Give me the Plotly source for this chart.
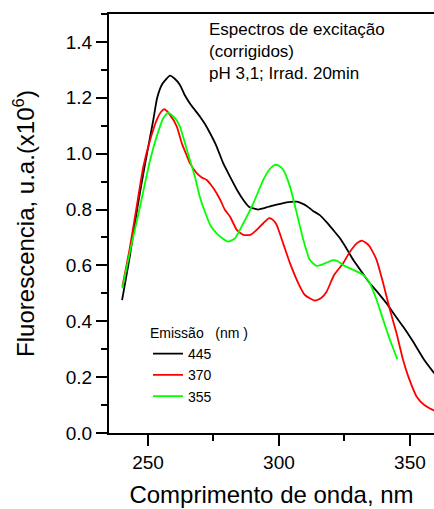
import plotly.graph_objects as go

# Emission 445 nm (black)
x445 = [240.1, 243, 246, 249, 252, 253.5, 255.5, 258.4, 260, 262.2, 264, 266, 268, 269.8, 271.8,
        273.7, 276, 278.7, 281.3, 284, 286.4, 288.5, 290.2, 292, 294, 296, 298.5, 302.9, 306.8,
        308.7, 310.6, 313, 315.6, 318, 320.7, 323.3, 325.5, 328.4, 331.5, 334.7, 338, 341.1, 344,
        347.4, 351, 355.1, 358.9, 361]
y445 = [0.476, 0.63, 0.81, 0.97, 1.12, 1.20, 1.25, 1.279, 1.27, 1.246, 1.21, 1.18, 1.155, 1.133, 1.105,
        1.073, 1.03, 0.966, 0.918, 0.87, 0.834, 0.81, 0.804, 0.80, 0.804, 0.81, 0.816, 0.826, 0.828,
        0.822, 0.813, 0.795, 0.78, 0.757, 0.727, 0.697, 0.665, 0.619, 0.578, 0.536, 0.50, 0.464, 0.425,
        0.381, 0.33, 0.267, 0.219, 0.195]

# Emission 370 nm (red)
x370 = [240.2, 243, 246, 248.2, 250.8, 253.3, 255, 256.2, 258.4, 261, 262.9, 264.5, 266, 268.6, 270.5,
        272.4, 274.3, 276.2, 277.8, 279.4, 281.3, 283.9, 286.4, 289, 291.5, 294, 296.3, 297.8, 299.1,
        301.6, 304.2, 307.4, 309.9, 313.7, 316, 318.2, 321, 324.5, 327.1, 329.7, 331.6, 333.3, 334.7,
        337.3, 339.8, 342.4, 344.9, 347.4, 349.4, 352.6, 355.5, 358.9, 361]
y370 = [0.524, 0.66, 0.83, 0.953, 1.049, 1.12, 1.15, 1.159, 1.139, 1.097, 1.037, 1.0, 0.966, 0.93, 0.915,
        0.906, 0.885, 0.858, 0.83, 0.798, 0.775, 0.727, 0.709, 0.709, 0.727, 0.751, 0.769, 0.762, 0.745,
        0.679, 0.608, 0.536, 0.494, 0.474, 0.482, 0.506, 0.565, 0.608, 0.649, 0.679, 0.689, 0.68, 0.667,
        0.619, 0.536, 0.44, 0.357, 0.261, 0.202, 0.13, 0.10, 0.082, 0.075]

# Emission 355 nm (green)
x355 = [240.2, 243, 246.7, 250.8, 253.3, 255.8, 257.7, 260.3, 262.2, 264.1, 266, 267.9, 269.8, 272,
        274, 276.2, 278, 280.6, 283.2, 286.4, 290.2, 294, 296.5, 298.5, 300, 301.6, 304.2, 306.8, 309.3,
        311.8, 314.4, 316.5, 318.2, 320.7, 322.5, 324.5, 328.4, 332.2, 334.7, 337.3, 339.8, 342.4, 345.2]
y355 = [0.518, 0.645, 0.80, 0.977, 1.061, 1.127, 1.147, 1.127, 1.097, 1.037, 0.977, 0.918, 0.845, 0.785,
        0.74, 0.715, 0.70, 0.685, 0.697, 0.751, 0.822, 0.906, 0.945, 0.96, 0.957, 0.942, 0.882, 0.787, 0.691,
        0.619, 0.598, 0.603, 0.61, 0.619, 0.615, 0.601, 0.584, 0.566, 0.536, 0.476, 0.405, 0.333, 0.264]

series = [
    ("445", x445, y445, "#000000"),
    ("370", x370, y370, "#ff0000"),
    ("355", x355, y355, "#00ff00"),
]

FONT = "Liberation Sans, Arial, sans-serif"

fig = go.Figure()
for name, xs, ys, col in series:
    fig.add_trace(go.Scatter(x=xs, y=ys, mode="lines", name=name,
                             line=dict(color=col, width=1.8, shape="spline", smoothing=0.5)))

fig.update_layout(
    width=434, height=509,
    margin=dict(l=109, r=0, t=14, b=76),
    paper_bgcolor="white", plot_bgcolor="white",
    font=dict(family=FONT, color="black"),
    showlegend=True,
    legend=dict(
        x=0.12, y=0.27, xanchor="left", yanchor="top",
        bgcolor="rgba(0,0,0,0)",
        font=dict(size=14, family=FONT),
        title=dict(text="Emissão\u00a0\u00a0\u00a0(nm\u00a0)", font=dict(size=14, family=FONT)),
        tracegroupgap=0,
    ),
    xaxis=dict(
        range=[235.1, 359.2], showgrid=False, zeroline=False,
        showline=True, linecolor="black", linewidth=2, mirror=True,
        ticks="outside", ticklen=11, tickwidth=1.5, tickcolor="black",
        tick0=250, dtick=50,
        minor=dict(ticks="outside", ticklen=6, tickwidth=1.5, tickcolor="black", dtick=25, tick0=250),
        tickfont=dict(size=19, family=FONT),
        title=dict(text="Comprimento de onda, nm", font=dict(size=24, family=FONT), standoff=14),
    ),
    yaxis=dict(
        range=[0, 1.5], showgrid=False, zeroline=False,
        showline=True, linecolor="black", linewidth=2,
        ticks="outside", ticklen=11, tickwidth=1.5, tickcolor="black",
        tick0=0, dtick=0.2, tickformat=".1f",
        minor=dict(ticks="outside", ticklen=6, tickwidth=1.5, tickcolor="black", dtick=0.1, tick0=0),
        tickfont=dict(size=19, family=FONT),
        title=dict(text="Fluorescencia, u.a.(x10<sup>6</sup>)", font=dict(size=24, family=FONT), standoff=24),
    ),
    annotations=[dict(
        x=0.303, y=0.99, xref="paper", yref="paper", xanchor="left", yanchor="top",
        text="Espectros de excitação<br>(corrigidos)<br>pH 3,1; Irrad. 20min",
        showarrow=False, align="left", font=dict(size=17, family=FONT),
    )],
)

fig.write_html("out.html")
